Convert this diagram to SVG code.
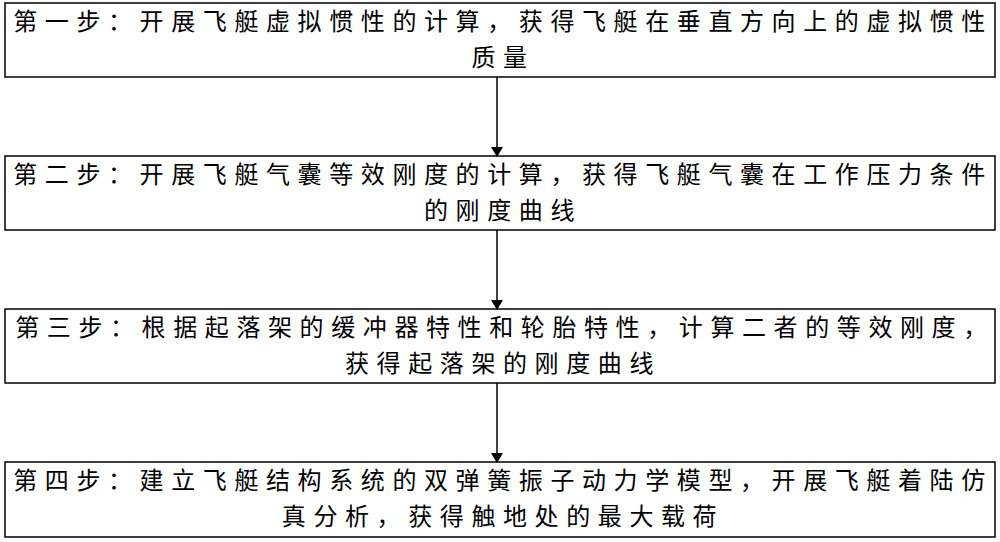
<svg xmlns="http://www.w3.org/2000/svg" width="1000" height="542" viewBox="0 0 1000 542">
<style>
.b{fill:#fff;stroke:#000;stroke-width:1.5}
.t{font-family:"Noto Sans CJK SC",sans-serif;font-size:24px;letter-spacing:7.6px;text-anchor:middle;fill:#000}
.c{stroke:#000;stroke-width:1.5;fill:none;marker-end:url(#a)}
</style>
<defs><marker id="a" markerWidth="10" markerHeight="12" refX="9" refY="6" orient="auto" markerUnits="userSpaceOnUse"><path d="M0,0L10,6L0,12z" fill="#000"/></marker></defs>
<rect width="1000" height="542" fill="#fff"/>
<g id="n1"><rect class="b" x="5" y="3" width="990" height="74"/>
<text class="t" x="503" y="30">第一步：开展飞艇虚拟惯性的计算，获得飞艇在垂直方向上的虚拟惯性</text>
<text class="t" x="503" y="66">质量</text></g>
<g id="n2"><rect class="b" x="5" y="156" width="990" height="74"/>
<text class="t" x="503" y="183">第二步：开展飞艇气囊等效刚度的计算，获得飞艇气囊在工作压力条件</text>
<text class="t" x="503" y="219">的刚度曲线</text></g>
<g id="n3"><rect class="b" x="5" y="309" width="990" height="74"/>
<text class="t" x="505" y="336" letter-spacing="6.8">第三步：根据起落架的缓冲器特性和轮胎特性，计算二者的等效刚度，</text>
<text class="t" x="503" y="372">获得起落架的刚度曲线</text></g>
<g id="n4"><rect class="b" x="5" y="462" width="990" height="75"/>
<text class="t" x="503" y="489">第四步：建立飞艇结构系统的双弹簧振子动力学模型，开展飞艇着陆仿</text>
<text class="t" x="503" y="525">真分析，获得触地处的最大载荷</text></g>
<g id="connectors">
<line class="c" x1="497" y1="77" x2="497" y2="156"/>
<line class="c" x1="497" y1="230" x2="497" y2="309"/>
<line class="c" x1="497" y1="383" x2="497" y2="462"/>
</g>
</svg>
